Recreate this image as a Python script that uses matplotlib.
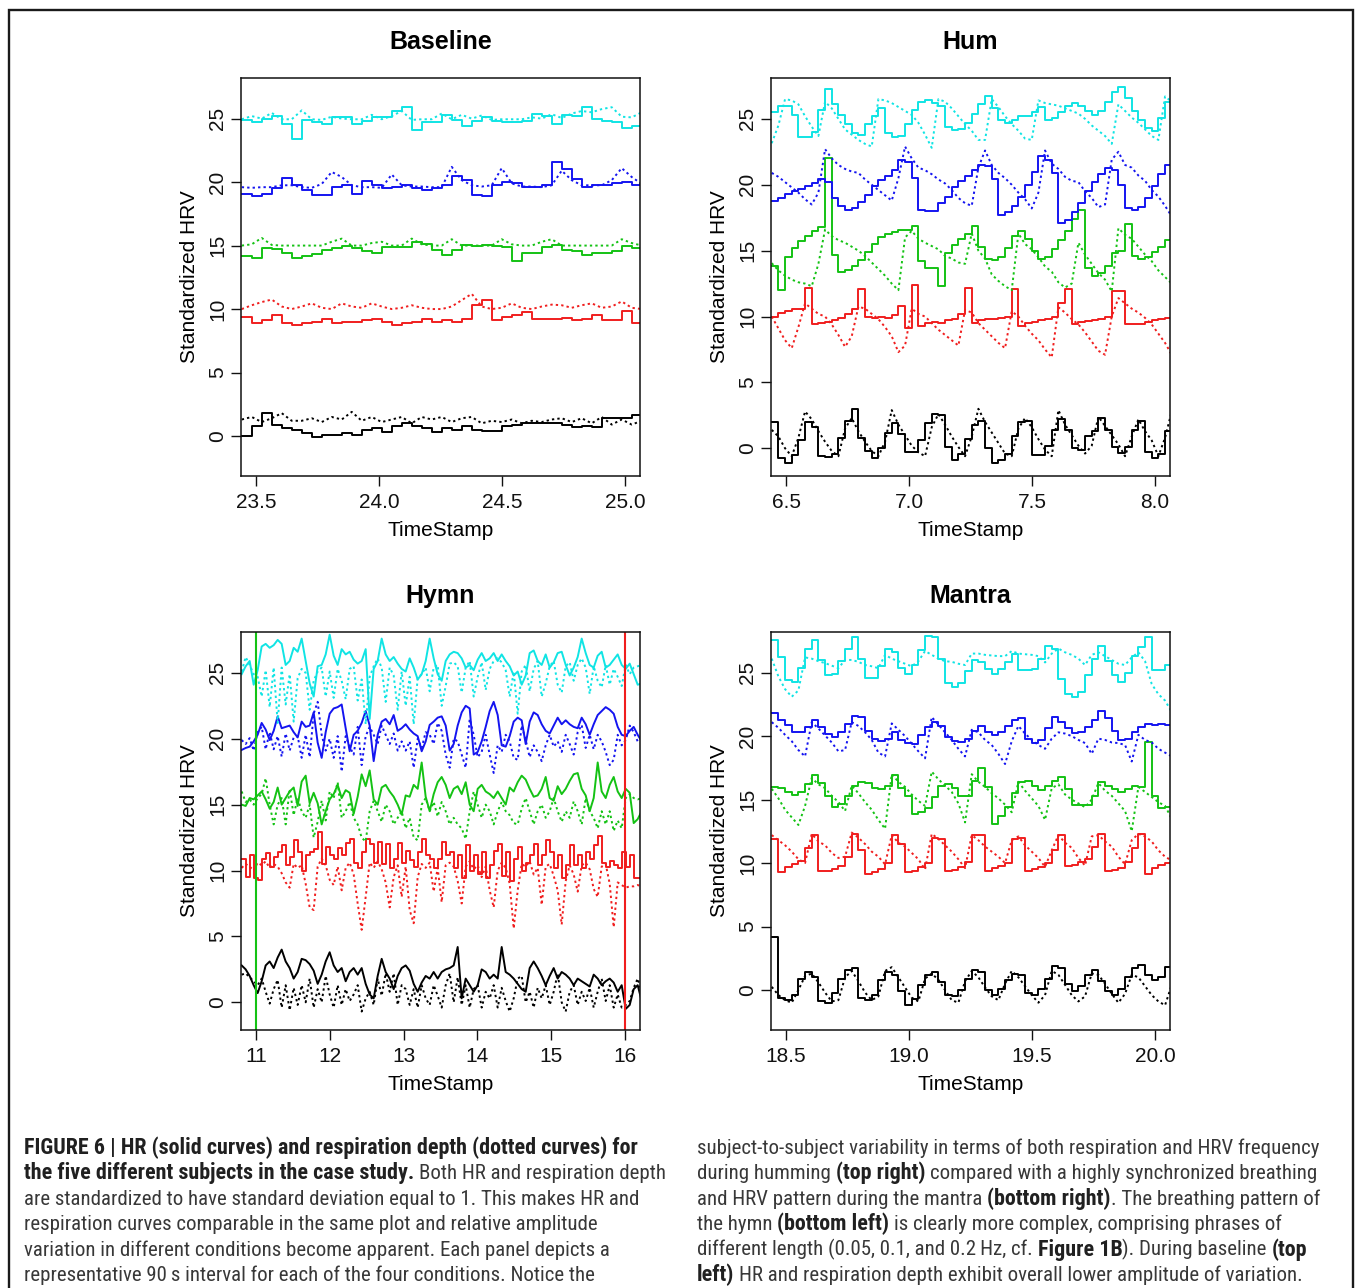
import numpy as np
import matplotlib
matplotlib.use('Agg')
import matplotlib.pyplot as plt
from matplotlib import font_manager
from matplotlib.font_manager import FontProperties
from matplotlib.patches import Rectangle

# ── Data (deviation from each subject's offset, in SD units) ────────────────
# subject order: black, red, green, blue, cyan
OFFSETS = [0, 10, 15, 20, 25]
COLORS = ['#000000', '#F01E1E', '#14C214', '#1414F0', '#10E4E4']

# Baseline (t = 23.44 .. 25.07)
BASE_T = np.linspace(23.442, 25.068, 41)
BASE_BLACK_HR = [0.0, 0.8, 1.8, 0.85, 0.6, 0.45, 0.2, -0.1, 0.1, 0.1, 0.2, 0.1, 0.5, 0.6, 0.35, 0.75, 1.0, 0.75, 0.6, 0.3, 0.6, 0.45, 0.8, 0.45, 0.4, 0.4, 0.75, 0.85, 1.0, 1.05, 1.0, 1.0, 0.9, 0.7, 0.75, 0.7, 1.4, 1.4, 1.45, 1.65, 1.0]
BASE_BLACK_RESP = [1.3, 1.5, 1.1, 1.4, 1.8, 1.2, 1.2, 1.4, 1.1, 1.5, 1.3, 1.9, 1.2, 1.5, 1.1, 1.3, 1.5, 1.0, 1.5, 1.3, 1.5, 1.1, 1.4, 1.5, 1.0, 1.2, 1.1, 1.3, 1.0, 1.2, 1.1, 1.3, 1.4, 1.1, 1.4, 1.0, 1.5, 0.9, 1.3, 0.9, 1.2]
BASE_RED_HR = [-0.6, -1.1, -0.85, -0.45, -1.1, -1.25, -1.1, -1.0, -0.75, -1.1, -1.0, -1.05, -0.9, -0.75, -1.0, -1.25, -1.1, -1.0, -0.8, -1.0, -0.9, -1.0, -0.8, 0.3, 0.7, -0.9, -0.6, -0.5, -0.2, -0.75, -0.8, -0.75, -0.7, -0.85, -0.75, -0.45, -0.85, -0.85, -0.15, -1.1, -1.0]
BASE_RED_RESP = [0.0, 0.3, 0.55, 0.75, 0.2, 0.0, 0.2, 0.45, 0.1, 0.0, 0.45, 0.2, 0.1, 0.45, 0.2, 0.0, 0.1, 0.3, 0.1, 0.0, 0.0, 0.2, 0.7, 1.2, 0.2, 0.0, 0.1, 0.45, 0.1, 0.0, 0.2, 0.35, 0.3, 0.1, 0.3, 0.45, 0.1, 0.2, 0.6, 0.1, 0.0]
BASE_GREEN_HR = [-0.85, -1.0, -0.2, -0.3, -0.6, -1.0, -0.85, -0.65, -0.35, -0.2, 0.0, -0.2, -0.45, -0.55, -0.1, -0.15, -0.1, 0.3, 0.1, -0.35, -0.75, -0.35, 0.05, 0.0, 0.05, 0.0, -0.1, -1.25, -0.6, -0.55, -0.1, 0.05, -0.35, -0.45, -0.75, -0.6, -0.55, -0.45, 0.0, -0.2, -0.6]
BASE_GREEN_RESP = [0.0, 0.1, 0.6, 0.05, 0.0, 0.0, 0.0, 0.0, 0.0, 0.3, 0.55, 0.0, 0.0, 0.2, 0.3, 0.0, 0.0, 0.55, 0.1, 0.0, 0.0, 0.5, 0.0, 0.0, 0.0, 0.0, 0.5, 0.1, 0.0, 0.0, 0.3, 0.5, 0.0, 0.0, 0.0, 0.0, 0.0, 0.0, 0.5, 0.2, 0.0]
BASE_BLUE_HR = [-0.9, -1.1, -0.9, -0.5, 0.35, -0.25, -0.65, -1.05, -1.0, -0.35, -0.25, -0.9, 0.1, -0.25, -0.5, -0.4, -0.25, -0.5, -0.6, -0.45, -0.25, 0.45, 0.15, -1.05, -1.1, -0.25, 0.0, -0.1, -0.4, -0.35, -0.2, 1.6, 1.0, 0.25, -0.4, -0.25, -0.2, -0.1, 0.0, -0.25, -0.6]
BASE_BLUE_RESP = [-0.4, -0.45, -0.4, -0.4, -0.25, -0.25, -0.4, -0.45, -0.15, 0.8, 0.4, -0.25, -0.4, -0.4, -0.45, 0.6, -0.25, -0.35, -0.35, -0.4, -0.4, 1.2, 0.15, -0.25, -0.35, -0.25, 1.1, -0.1, -0.35, -0.35, -0.4, -0.25, 0.9, 0.15, -0.25, -0.25, -0.25, 0.15, 1.1, 0.4, -0.15]
BASE_CYAN_HR = [-0.1, -0.25, 0.0, 0.2, -0.4, -1.6, -0.1, -0.3, -0.4, 0.15, 0.1, -0.4, -0.2, 0.15, 0.1, 0.6, 0.9, -0.9, -0.3, -0.25, 0.3, -0.1, -0.6, -0.2, 0.1, -0.2, -0.3, -0.3, -0.2, 0.35, 0.2, -0.4, 0.3, 0.2, 0.9, 0.0, -0.2, -0.3, -0.7, -0.6, 0.4]
BASE_CYAN_RESP = [-0.05, 0.2, 0.0, 0.45, -0.05, -0.05, 0.65, -0.05, -0.1, 0.15, 0.0, -0.05, -0.05, 0.3, -0.05, 0.2, 0.6, -0.1, -0.05, -0.05, 0.4, -0.05, 0.3, 0.0, 0.25, -0.1, -0.05, -0.05, -0.05, 0.1, 0.0, 0.35, 0.05, 0.4, 0.6, 0.5, 0.75, 0.9, 0.15, 0.1, 0.5]

# Hum (t = 6.44 .. 8.07)
HUM_T = np.linspace(6.442, 8.068, 61)
HUM_BLACK_HR = [2.0, -0.7, -1.15, -0.5, 0.6, 2.0, 1.6, -0.6, -0.65, -0.4, 0.8, 2.1, 3.0, 0.8, -0.2, -0.75, 0.0, 1.2, 1.9, 1.1, -0.3, -0.3, 0.6, 1.9, 2.6, 2.5, 0.1, -0.9, -0.4, 0.7, 1.8, 2.1, 0.0, -1.1, -0.9, -0.4, 0.9, 2.0, 2.1, -0.5, -0.5, 0.2, 1.4, 2.2, 1.4, 0.0, -0.1, 0.9, 1.3, 2.3, 1.4, 0.1, -0.35, 0.1, 1.4, 2.1, -0.3, -0.75, -0.4, 1.3, 1.6]
HUM_BLACK_RESP = [1.4, 0.9, 0.0, -0.6, 0.8, 2.8, 2.2, 1.3, 0.5, -0.2, -0.6, 1.5, 2.3, 1.3, 0.5, -0.2, -0.6, 0.5, 2.9, 1.8, 1.0, 0.2, -0.3, -0.6, 1.6, 2.6, 1.8, 0.9, 0.1, -0.6, 0.9, 3.0, 2.0, 1.2, 0.4, -0.4, -0.6, 1.5, 2.3, 1.6, 0.7, -0.1, -0.6, 2.9, 1.8, 1.0, 0.2, -0.4, 0.2, 2.4, 1.7, 1.0, 0.3, -0.6, 0.9, 2.2, 1.3, 0.6, -0.6, 0.8, 2.8]
HUM_RED_HR = [0.0, 0.25, 0.45, 0.6, 0.6, 2.2, -0.6, -0.5, -0.4, -0.25, -0.1, 0.2, 0.6, 2.1, 0.0, -0.1, 0.0, -0.1, 0.1, 0.8, -0.9, 2.4, -0.7, -0.5, -0.4, -0.5, -0.3, -0.2, 0.2, 2.15, -0.5, -0.25, -0.2, -0.15, -0.1, 0.0, 2.1, -0.7, -0.5, -0.4, -0.25, -0.15, 0.0, 1.0, 2.1, -0.6, -0.4, -0.35, -0.25, -0.15, 0.0, 1.9, 1.9, -0.6, -0.6, -0.6, -0.4, -0.25, -0.15, -0.1, -0.05]
HUM_RED_RESP = [0.0, -0.9, -1.8, -2.4, -0.8, 1.0, 0.6, 0.2, 0.0, -0.6, -1.4, -2.3, -1.5, 0.75, 0.6, 0.2, -0.2, -0.8, -1.5, -2.7, -2.2, 0.6, 0.2, 0.0, -0.5, -1.0, -1.4, -1.8, -2.2, 0.5, 0.3, -0.5, -1.0, -1.5, -2.0, -2.4, 0.4, 0.0, -0.7, -1.3, -1.8, -2.5, -3.1, 0.7, 0.3, -0.2, -0.6, -1.2, -1.9, -2.6, -2.9, 0.0, 1.4, 1.0, 0.6, 0.3, -0.1, -0.6, -1.3, -2.0, -2.9]
HUM_GREEN_HR = [-1.2, -3.0, -0.5, 0.2, 0.75, 1.1, 1.5, 1.8, 7.0, -0.3, -1.6, -1.5, -1.2, -0.7, -0.1, 0.5, 1.0, 1.3, 1.45, 1.55, 1.6, 1.85, -0.8, -1.3, -1.3, -2.7, -0.2, 0.4, 0.9, 1.3, 1.85, 0.3, -0.6, -0.7, -0.5, 0.2, 1.1, 1.5, 0.9, 0.0, -0.6, -0.5, 0.1, 0.8, 1.5, 2.4, 3.1, -1.3, -1.9, -1.7, -1.2, -0.2, 0.0, 2.0, -0.4, -0.6, -0.5, -0.1, 0.3, 0.8, 1.45]
HUM_GREEN_RESP = [-0.95, -1.5, -1.9, -2.2, -2.4, -2.5, -2.7, -1.0, 1.6, 1.1, 0.8, 0.6, 0.3, 0.0, -0.4, -0.9, -1.4, -1.9, -2.5, -3.0, 1.0, 1.5, 0.9, 0.6, 0.35, 0.1, -0.4, -0.6, -0.9, -1.0, 1.3, 0.0, -0.6, -1.8, -2.3, -2.7, -3.0, 1.3, 0.5, 0.1, -0.5, -1.2, -1.6, -2.4, -2.8, -2.5, 0.6, -0.3, -1.0, -1.7, -2.2, -3.1, 1.7, 1.2, 0.9, 0.3, -0.3, -0.8, -1.5, -2.0, -2.5]
HUM_BLUE_HR = [-1.25, -1.0, -0.7, -0.45, -0.3, -0.1, 0.1, 0.4, 0.2, -1.0, -1.6, -1.9, -1.8, -1.3, -0.8, -0.1, 0.35, 0.7, 1.1, 1.9, 1.7, 0.5, -1.9, -2.0, -2.0, -1.4, -0.9, -0.2, 0.3, 0.7, 1.1, 1.5, 1.4, 0.4, -2.3, -2.1, -1.6, -0.9, 0.0, 1.0, 2.2, 1.9, 0.9, -2.9, -2.7, -2.1, -1.4, -0.5, 0.2, 0.8, 1.3, 1.1, 0.0, -1.8, -1.9, -1.7, -1.0, -0.1, 0.8, 1.5, 2.0]
HUM_BLUE_RESP = [0.9, 0.6, 0.2, -0.2, -0.6, -1.1, -1.5, -0.6, 2.7, 2.0, 1.5, 1.2, 1.0, 0.9, 0.4, 0.0, -0.4, -0.8, -1.2, 0.5, 2.9, 2.0, 1.3, 1.1, 0.8, 0.4, 0.1, -0.4, -1.0, -1.4, -1.6, 1.3, 2.6, 1.5, 0.9, 0.5, 0.0, -0.6, -1.1, -1.8, -0.6, 2.6, 1.6, 1.2, 0.6, 0.3, 0.2, -0.5, -1.0, -1.7, -1.5, 1.9, 2.5, 1.5, 1.3, 0.7, 0.3, -0.4, -0.9, -1.6, -2.4]
HUM_CYAN_HR = [0.55, 0.95, 0.95, 0.3, -1.4, -1.35, -1.0, 0.7, 2.3, 1.1, 0.3, -0.4, -1.1, -1.2, -0.4, 0.2, 0.8, -1.1, -1.4, -1.3, -0.4, 0.7, 1.3, 1.4, 1.2, 1.0, -0.6, -0.85, -0.8, -0.3, 0.4, 1.1, 1.7, 0.8, -0.1, -0.3, -0.1, 0.2, 0.2, 0.5, 0.9, -0.1, 0.1, 0.5, 1.0, 1.2, 1.0, 0.6, 0.3, 0.6, 1.3, 2.0, 2.4, 1.6, 0.6, -0.1, -0.7, -0.9, 0.1, 1.3, 1.1]
HUM_CYAN_RESP = [-1.85, -0.5, 1.5, 1.4, 1.1, 0.2, -0.6, -1.3, 1.3, 0.8, 0.0, -0.8, -1.2, -1.6, -1.9, -2.1, 1.5, 1.4, 1.2, 0.9, 0.6, 0.3, -0.3, -1.2, -2.2, 1.5, 1.3, 0.8, 0.2, -0.4, -0.9, -1.6, -1.6, 1.5, 0.9, 0.2, -0.4, -0.9, -1.5, -1.6, 1.4, 1.2, 1.1, 1.0, 0.8, 0.6, 0.4, 0.0, -0.5, -0.9, -1.3, -1.9, 1.1, 0.6, 0.1, -0.3, -0.8, -1.3, -1.6, 1.7, 1.3]

# Hymn (t = 10.81 .. 16.23)
HYMN_T = np.linspace(10.806, 16.226, 101)
HYMN_BLACK_HR = [2.8, 2.5, 2.0, 1.3, 0.7, 1.6, 2.8, 3.1, 2.6, 3.4, 4.0, 3.1, 2.6, 1.8, 2.3, 3.3, 3.2, 2.9, 2.4, 1.4, 2.1, 3.1, 3.8, 2.8, 2.3, 2.6, 1.6, 2.3, 2.6, 2.1, 2.6, 1.4, 0.6, 0.3, 2.0, 3.3, 2.3, 1.8, 1.0, 2.0, 2.6, 2.8, 2.4, 1.4, 0.8, 1.5, 2.0, 1.8, 2.3, 1.8, 2.3, 2.5, 2.6, 2.8, 4.2, 0.3, 1.8, 1.3, 0.8, 1.3, 2.5, 2.3, 1.8, 2.1, 1.8, 4.2, 2.3, 2.1, 1.8, 1.4, 1.0, 0.8, 2.6, 3.1, 2.6, 2.0, 1.3, 2.0, 2.6, 1.8, 2.3, 2.1, 1.8, 1.3, 1.8, 1.6, 1.4, 1.2, 2.1, 1.8, 1.3, 1.6, 1.8, 1.5, 0.8, 1.3, -0.5, -0.2, 1.0, 1.3, 0.1]
HYMN_BLACK_RESP = [2.1, 2.2, 1.9, 1.6, 1.3, 1.8, 0.8, -0.1, 1.0, 1.7, -0.4, 1.3, -0.6, 1.1, -0.2, 1.3, 0.0, 1.8, -0.4, 1.0, 0.0, 2.0, 0.6, -0.4, 1.3, -0.2, 1.0, 0.1, 0.6, 1.3, -0.7, 0.3, 0.8, -0.2, 1.8, 0.5, 2.2, 0.8, 2.2, -0.2, 1.3, 1.0, -0.2, 1.0, -0.4, 1.3, 0.3, -0.2, 1.3, 0.5, -0.4, 1.3, 2.2, 0.0, 1.9, -0.2, 1.3, -0.4, 1.0, 1.3, -0.4, 0.8, 0.3, 1.3, -0.4, 1.1, 0.1, -0.7, 0.3, 1.8, 2.0, 0.0, 0.8, -0.4, 1.1, 0.3, 1.3, -0.2, 0.8, 2.2, 0.0, -0.7, 0.8, 1.3, -0.2, 0.8, 0.1, 1.1, -0.4, 0.8, 1.8, 0.1, 1.3, -0.4, 0.6, -0.4, -0.2, 0.1, 1.1, 1.8, 0.8]
HYMN_RED_HR = [0.9, -0.5, 1.2, -0.6, -0.7, 0.9, 1.3, 0.3, 1.0, 1.4, 1.95, 0.4, 1.0, 2.3, 1.4, 0.0, 1.2, 1.4, 1.6, 2.9, 0.5, 1.8, 1.2, 0.9, 1.7, 1.2, 2.1, 2.4, 0.6, 0.2, 1.4, 2.4, 2.0, 0.6, 2.2, 0.5, 2.0, 0.2, 0.9, 2.1, 0.6, 1.5, 0.8, 0.3, 1.4, 2.4, 1.2, 0.9, 0.2, 0.9, 2.2, 1.2, 1.4, 0.2, 1.2, -0.6, 1.9, 0.0, 1.2, -0.3, 1.4, -0.6, 0.4, 1.5, 2.0, -0.4, 1.4, -0.8, 0.9, 1.8, 0.0, 0.6, 1.2, 2.0, 0.4, 1.2, 2.3, 1.4, 0.2, 1.2, -0.6, 0.4, 1.9, 0.4, 1.2, 0.2, 1.4, 0.9, 1.95, 2.6, 0.6, 0.3, 0.7, 0.4, 0.2, 1.4, 0.3, 1.2, -0.6, -0.6, -0.6]
HYMN_RED_RESP = [0.2, 0.5, 0.3, 0.0, 0.6, 0.4, 0.7, 0.2, 0.5, 0.3, -0.2, -0.9, -1.3, 0.5, 0.2, 0.4, -1.0, -2.8, -3.0, 0.3, 0.9, 0.4, -0.7, -1.1, 0.3, -1.5, 0.2, 0.6, -0.3, -2.5, -4.5, -2.0, 0.6, 0.2, 0.7, 0.1, -0.9, -2.8, -0.5, 0.4, -2.0, 0.3, -3.0, -4.0, -0.5, 0.5, 0.2, 0.6, -1.6, 0.2, -2.4, 0.4, 0.6, 0.3, -0.8, -2.5, 0.3, 0.7, 0.1, 0.4, -0.5, 0.3, -1.5, -2.8, 0.0, 0.6, 0.2, -1.0, -4.4, -1.5, 0.5, 0.3, 0.7, -0.3, 0.2, -2.6, 0.3, 0.5, -0.4, -1.5, -4.1, -0.8, 0.4, -0.3, -1.6, 0.4, 0.6, 0.1, -1.4, -2.0, 0.3, 0.5, -1.0, -4.3, -0.9, -1.1, -1.3, -1.2, -1.2, -1.1, -1.2]
HYMN_GREEN_HR = [0.0, -0.1, 0.5, 0.4, 0.7, 1.0, 0.4, -0.3, 0.2, 1.3, 0.0, 0.5, 1.0, 1.3, -0.1, 1.75, 2.2, 0.1, 0.9, 0.1, -1.5, -0.5, 0.4, 0.8, 1.5, 0.5, 1.1, 0.9, -0.7, 0.6, 2.3, 1.4, 2.6, 0.4, 0.0, 1.3, 1.5, 1.0, 0.6, 0.0, -0.75, 0.7, 0.6, 1.5, 1.2, 3.2, 0.6, -0.5, 0.8, 1.7, 2.1, 1.5, 0.5, 1.2, 1.4, 0.8, 1.7, 0.0, -0.5, 1.2, 1.5, 1.0, 0.8, 0.5, 1.0, 0.5, 0.0, 1.3, 1.0, 1.7, 2.2, 1.9, 1.2, 0.6, 0.7, 1.2, 2.1, 0.5, 0.3, 1.4, 0.8, 1.2, 1.8, 2.3, 2.4, 1.2, 0.7, -0.5, 0.5, 3.2, 1.0, 0.5, 1.5, 2.1, 1.0, 0.5, 1.2, 0.9, -1.4, -1.1, -0.5]
HYMN_GREEN_RESP = [1.0, 0.2, 0.4, 0.0, 0.5, 0.8, 2.0, 0.0, -1.5, 0.0, 0.5, -1.5, 1.2, -0.8, 0.5, -0.5, -1.0, 0.0, -2.5, -1.3, 0.3, -1.2, 1.0, 0.5, 1.7, -1.0, -0.5, 0.2, -1.0, -1.5, -2.5, -2.8, -0.5, 0.3, -0.5, -1.3, 0.0, -0.5, -1.5, -1.0, -0.5, -1.8, -1.0, -2.5, -2.7, 0.0, 0.5, -0.5, 0.2, -0.9, 0.2, -0.5, -1.5, -1.0, -1.5, -1.8, -2.6, -0.5, 1.0, 0.0, -1.0, 0.0, -0.5, -1.5, -0.5, 0.2, -0.5, -0.8, -1.4, -1.5, -0.3, 0.5, -0.5, -1.5, -0.5, 0.0, -1.0, -0.5, 0.5, -0.5, -1.3, -0.5, -1.0, 0.25, -0.5, -1.5, 0.5, -0.5, -1.0, -1.8, -0.5, -1.5, -0.5, -2.0, -1.2, -1.8, 0.5, 0.8, 0.5, 0.4, 0.5]
HYMN_BLUE_HR = [-0.85, -0.7, -0.6, -0.2, 0.3, 1.2, 0.7, -0.1, 0.6, 1.7, 0.8, 0.9, 1.0, 0.5, 0.1, 1.3, 0.9, 1.0, 2.0, -0.3, -1.45, 0.5, 1.9, 2.3, 2.4, 2.6, 0.8, -0.95, 0.3, 0.6, 1.2, 2.1, 1.0, -1.7, 0.3, 1.3, 1.5, 1.1, 1.8, 0.6, 0.8, 1.1, 0.7, 0.4, 0.2, -0.95, -0.2, 1.05, 1.3, 1.6, 1.7, 1.0, -0.9, -0.4, 1.0, 2.0, 2.5, 2.3, -1.2, -1.0, -0.2, 0.9, 2.1, 2.8, 1.8, -0.5, -0.6, 0.2, 1.3, 1.6, 1.4, -0.4, 1.3, 2.0, 1.8, 1.1, 0.6, 0.4, 1.0, 1.6, 1.1, 1.4, 1.1, 0.9, 0.8, 1.6, 1.1, 0.3, 1.1, 1.8, 2.1, 2.4, 2.2, 1.9, 0.9, 0.3, 0.2, 0.6, 0.9, 0.3, -0.2]
HYMN_BLUE_RESP = [-0.1, -0.4, 0.05, -0.9, 0.5, 0.9, -0.8, 0.5, -0.8, 0.2, -1.35, 0.4, -0.9, 0.1, 0.2, -1.45, 0.3, -1.4, 1.9, 2.8, 0.3, -0.9, 0.0, -1.45, 0.2, -2.5, 0.2, -0.6, -1.2, 0.9, -2.0, 0.2, 0.9, 0.3, -0.4, 1.0, 0.3, -0.4, 0.4, -0.9, -0.2, -0.9, -0.2, -2.2, 0.0, -0.7, 0.5, 0.3, -0.4, 1.2, 0.6, -1.2, -2.2, 0.0, -0.2, -1.2, -2.2, 1.5, 0.3, -1.4, -1.0, 0.3, -1.2, -2.6, -0.5, -1.0, 0.3, -0.2, -1.45, -1.6, 1.0, -0.1, -1.4, -0.5, -1.0, -1.7, -0.5, 0.3, -0.6, -0.2, -1.0, 0.3, -0.4, -1.2, 0.5, 1.05, -0.7, 0.3, -0.8, 0.3, -0.2, -1.0, -2.0, -1.6, 0.3, -0.5, -0.1, 1.0, 0.5, -0.2, 0.05]
HYMN_CYAN_HR = [-0.1, 0.5, 0.9, -0.9, 0.2, 2.0, 2.2, 1.9, 2.1, 2.5, 2.2, 0.6, 0.9, 1.9, 1.6, 2.6, 0.9, -0.8, -1.8, 0.5, 0.6, 1.4, 2.9, 1.3, 0.6, 1.8, 1.4, 1.6, 1.0, 0.7, 0.9, 1.8, -3.5, 0.3, 0.9, 2.6, 1.4, 0.9, 1.2, 0.7, 0.3, 0.1, 1.1, 0.4, -0.5, -0.1, 0.9, 2.6, 1.1, -0.1, -0.6, 0.9, 1.4, 1.6, 1.5, 1.1, 0.4, 0.6, 0.2, 1.0, 1.5, 0.9, 1.1, 1.5, 0.9, 1.4, 0.9, 0.5, -0.2, 0.1, -0.9, -0.2, 1.5, 1.7, 0.9, 0.6, 1.4, 0.4, 0.8, 1.5, 1.6, 0.6, -0.2, 0.4, 1.2, 2.6, 1.5, 0.6, 0.4, 1.3, 1.6, 0.4, 0.6, 1.0, 1.4, 0.6, 0.3, 0.7, -0.1, -0.9, -0.8]
HYMN_CYAN_RESP = [0.1, 1.2, 0.6, -0.1, -0.3, -1.8, 0.2, -2.6, 0.4, -3.8, 0.4, -2.4, -0.1, -3.7, -0.4, 0.3, 0.0, -2.8, -0.6, 0.1, 0.4, -1.8, 0.1, -1.9, 0.3, -0.6, -2.0, 0.3, 0.5, -2.1, -0.5, -3.9, -0.3, 0.5, 1.1, 0.4, -2.2, 0.4, -0.2, -2.8, 0.1, -2.5, -0.3, -3.9, -0.4, -0.1, 0.4, -1.4, 0.4, 0.6, -2.5, -1.0, 0.7, 0.8, 0.5, -1.5, 0.4, 0.9, -1.8, -0.3, 0.8, -1.3, 0.3, 0.9, 1.1, 0.8, 0.2, -1.8, 0.1, -3.1, 0.1, 0.6, -1.4, 0.3, 0.9, -1.8, -0.8, 0.5, 0.9, -0.9, -1.5, 0.5, 0.8, -0.6, 0.6, 1.1, 0.4, -1.6, 0.5, -0.6, -1.1, 0.6, -0.9, 0.3, -0.3, -1.0, 0.6, -0.1, 0.4, 0.5, 0.6]
HYMN_MARKS = [11.0, 16.0]          # start / end of the hymn
HYMN_MARK_COLORS = ['#14C214', '#F01E1E']

# Mantra (t = 18.44 .. 20.07)
MANTRA_T = np.linspace(18.442, 20.068, 61)
MANTRA_BLACK_HR = [4.2, -0.65, -0.8, -0.4, 0.9, 1.4, 1.0, -0.9, -1.0, -0.2, 0.9, 1.6, 1.7, -0.6, -0.8, -0.4, 0.8, 1.4, 1.2, -0.1, -1.2, -0.7, 0.4, 1.2, 1.4, 0.6, -0.4, -0.5, 0.0, 0.9, 1.6, 1.4, 0.0, -0.4, 0.1, 0.8, 1.3, 1.2, -0.2, -0.4, 0.1, 0.9, 1.9, 1.7, 0.5, -0.1, 0.3, 1.2, 1.6, 0.7, -0.1, -0.4, 0.1, 1.0, 1.7, 2.0, 1.2, 0.8, 1.0, 1.8, 2.3]
MANTRA_BLACK_RESP = [0.25, -0.4, -0.8, -1.0, 0.0, 1.1, 1.3, 0.6, -0.2, -0.9, -0.8, 1.0, 1.5, 0.7, -0.2, -0.8, -0.5, 1.5, 1.8, 1.0, 0.2, -0.6, -0.9, 0.9, 1.3, 0.8, 0.0, -0.8, -1.0, 0.7, 1.5, 1.0, 0.2, -0.5, -0.8, 0.5, 1.5, 1.0, 0.3, -0.4, -1.0, -0.4, 1.5, 1.2, 0.4, -0.4, -0.9, -0.5, 1.3, 1.2, 0.5, -0.3, -1.0, -0.3, 1.2, 1.0, 0.3, -0.4, -0.9, -1.2, 0.4]
MANTRA_RED_HR = [1.9, -0.7, -0.3, -0.1, 0.2, 1.2, 2.2, -0.65, -0.6, -0.45, -0.2, 0.5, 2.3, 1.0, -0.85, -0.7, -0.5, 0.0, 2.2, 1.5, -0.7, -0.6, -0.35, 0.0, 2.0, 1.9, -0.65, -0.55, -0.3, 0.1, 2.2, 2.2, -0.6, -0.4, -0.2, 0.0, 1.9, 2.0, -0.6, -0.45, -0.3, 0.0, 1.0, 2.2, -0.2, -0.15, 0.1, 0.3, 1.3, 2.3, -0.6, -0.55, -0.4, 0.1, 1.2, 2.3, -0.85, -0.4, -0.15, 0.0, 0.3]
MANTRA_RED_RESP = [2.2, 1.8, 1.4, 0.9, 0.3, 0.0, 2.3, 1.7, 1.4, 0.8, 0.4, 0.5, 2.4, 2.0, 1.5, 0.9, 0.5, -0.1, 2.2, 1.6, 1.3, 0.8, 0.3, -0.5, 2.3, 1.9, 1.4, 0.9, 0.3, -0.4, 2.2, 1.8, 1.3, 0.9, 0.5, 0.0, 1.8, 2.1, 1.4, 0.9, 0.4, -0.3, 1.0, 2.2, 1.6, 1.2, 0.4, -0.2, 2.1, 2.2, 1.7, 1.3, 0.5, -0.1, 1.8, 2.3, 2.1, 1.7, 1.0, 0.5, 0.2]
MANTRA_GREEN_HR = [1.0, 0.9, 0.6, 0.35, 0.6, 1.2, 1.9, 1.3, 0.3, -0.6, -0.35, 0.3, 1.1, 1.4, 1.3, 0.9, 0.8, 1.1, 1.9, 0.9, 0.3, -1.1, -0.95, -0.7, 0.2, 1.1, 1.25, 0.9, 0.25, 0.3, 1.5, 2.5, 1.0, -1.9, -1.3, -0.6, 0.5, 1.4, 1.5, 1.1, 0.75, 1.1, 1.5, 1.8, 0.8, -0.45, -0.45, -0.45, 0.3, 1.4, 1.1, 0.85, 0.6, 0.85, 1.1, 1.0, 4.5, 0.3, -0.7, -0.6, -0.2]
MANTRA_GREEN_RESP = [0.85, 0.1, -0.8, -1.4, -2.0, -0.5, 1.7, 1.2, 0.9, 0.3, -0.2, -0.9, 1.1, 0.5, -0.2, -0.8, -1.6, -2.3, 2.0, 1.4, 1.0, 0.4, -0.1, -0.5, 2.2, 1.6, 1.1, 0.6, -0.3, -1.8, 2.0, 1.4, 1.0, 0.5, 0.1, -0.4, -1.0, 1.4, 0.7, 0.1, -0.5, -1.6, 0.9, 1.2, 0.4, 0.0, -0.3, -0.6, 0.0, 1.3, 0.7, 0.3, -0.3, -0.9, -2.5, 1.0, 0.6, 0.2, -0.2, -0.5, -1.5]
MANTRA_BLUE_HR = [1.8, 1.3, 0.85, 0.35, 0.3, 0.7, 1.3, 0.75, 0.2, -0.1, 0.3, 0.95, 1.6, 1.5, 0.4, -0.2, -0.4, -0.2, 0.35, -0.3, -0.55, -0.6, 0.1, 0.7, 1.1, 0.8, -0.1, -0.4, -0.45, -0.2, 0.4, 0.8, 0.3, 0.1, 0.3, 0.8, 1.3, 1.4, -0.2, -0.55, -0.3, 0.6, 1.5, 1.1, 0.6, 0.25, 0.3, 0.7, 1.3, 2.0, 1.4, 0.4, -0.3, -0.2, 0.3, 0.7, 0.95, 0.85, 0.95, 0.9, 0.85]
MANTRA_BLUE_RESP = [1.1, 0.65, 0.1, -0.4, -1.1, -1.6, 1.1, 0.6, 0.05, -0.5, -1.2, -1.1, 1.1, 0.8, 0.3, -0.3, -1.3, -1.6, 1.0, 0.5, 0.0, -0.6, -1.2, -1.75, 1.5, 0.9, 0.3, -0.3, -1.0, -1.6, 0.5, 0.3, -0.3, -0.7, -1.4, -2.2, -0.4, 0.8, 0.2, -0.3, -0.7, -1.0, -0.2, 0.3, 0.2, 0.0, -0.3, -0.55, -1.4, -0.2, -0.3, -0.5, -0.55, -0.7, -2.0, 0.1, -0.3, -0.5, -1.0, -1.3, -1.6]
MANTRA_CYAN_HR = [2.6, 1.2, -0.6, -0.7, 0.4, 1.9, 2.6, 1.0, -0.2, -0.1, 0.9, 1.9, 2.8, 1.1, -0.4, -0.4, 0.5, 1.9, 1.6, 0.4, -0.1, 0.6, 1.8, 2.9, 2.8, 1.1, -0.8, -1.1, -0.8, 0.1, 1.0, 0.8, 0.3, -0.1, 0.3, 0.8, 1.5, 0.2, 0.2, 0.3, 1.1, 2.1, 1.9, -0.5, -1.7, -1.9, -1.5, -0.2, 1.1, 2.1, 0.9, -0.2, -0.7, 0.0, 1.3, 2.0, 2.8, 0.2, 0.2, 0.6, 1.1]
MANTRA_CYAN_RESP = [1.1, -0.3, -1.3, -1.9, -1.4, 1.2, 1.1, 0.9, 0.75, 0.55, 0.35, 1.0, 1.0, 0.85, 0.6, 0.5, 0.35, 1.4, 1.1, 0.9, 0.7, 0.5, 0.9, 1.7, 1.4, 1.1, 0.9, 0.85, 0.7, 0.6, 1.5, 1.5, 1.4, 1.35, 1.3, 1.3, 1.7, 1.5, 1.45, 1.4, 1.3, 0.8, 1.5, 1.9, 1.6, 1.4, 1.1, 0.6, 1.4, 1.6, 1.3, 1.0, 0.7, 0.6, 1.2, 1.6, 0.9, -0.9, -1.7, -2.2, -3.1]

Y_TICKS = [0, 5, 10, 15, 20, 25]

PANELS = [
    dict(title='Baseline', t=BASE_T, steps=[True] * 5,
         hr=[BASE_BLACK_HR, BASE_RED_HR, BASE_GREEN_HR, BASE_BLUE_HR, BASE_CYAN_HR],
         resp=[BASE_BLACK_RESP, BASE_RED_RESP, BASE_GREEN_RESP, BASE_BLUE_RESP, BASE_CYAN_RESP],
         xticks=[23.5, 24.0, 24.5, 25.0], xlabels=['23.5', '24.0', '24.5', '25.0'],
         xlim=(23.439, 25.061), ylim=(-3.15, 28.2), box=(241, 78, 640, 476)),
    dict(title='Hum', t=HUM_T, steps=[True] * 5,
         hr=[HUM_BLACK_HR, HUM_RED_HR, HUM_GREEN_HR, HUM_BLUE_HR, HUM_CYAN_HR],
         resp=[HUM_BLACK_RESP, HUM_RED_RESP, HUM_GREEN_RESP, HUM_BLUE_RESP, HUM_CYAN_RESP],
         xticks=[6.5, 7.0, 7.5, 8.0], xlabels=['6.5', '7.0', '7.5', '8.0'],
         xlim=(6.439, 8.061), ylim=(-2.1, 28.1), box=(771, 78, 1170, 476)),
    dict(title='Hymn', t=HYMN_T, steps=[False, True, False, False, False],
         hr=[HYMN_BLACK_HR, HYMN_RED_HR, HYMN_GREEN_HR, HYMN_BLUE_HR, HYMN_CYAN_HR],
         resp=[HYMN_BLACK_RESP, HYMN_RED_RESP, HYMN_GREEN_RESP, HYMN_BLUE_RESP, HYMN_CYAN_RESP],
         xticks=[11, 12, 13, 14, 15, 16], xlabels=['11', '12', '13', '14', '15', '16'],
         xlim=(10.797, 16.203), ylim=(-2.1, 28.1), box=(241, 632, 640, 1030)),
    dict(title='Mantra', t=MANTRA_T, steps=[True] * 5,
         hr=[MANTRA_BLACK_HR, MANTRA_RED_HR, MANTRA_GREEN_HR, MANTRA_BLUE_HR, MANTRA_CYAN_HR],
         resp=[MANTRA_BLACK_RESP, MANTRA_RED_RESP, MANTRA_GREEN_RESP, MANTRA_BLUE_RESP, MANTRA_CYAN_RESP],
         xticks=[18.5, 19.0, 19.5, 20.0], xlabels=['18.5', '19.0', '19.5', '20.0'],
         xlim=(18.439, 20.061), ylim=(-3.15, 28.2), box=(771, 632, 1170, 1030)),
]

# caption: list of lines, each a list of (text, bold)
CAPTION_LEFT = [
    [('FIGURE 6 | HR (solid curves) and respiration depth (dotted curves) for', True)],
    [('the five different subjects in the case study.', True), (' Both HR and respiration depth', False)],
    [('are standardized to have standard deviation equal to 1. This makes HR and', False)],
    [('respiration curves comparable in the same plot and relative amplitude', False)],
    [('variation in different conditions become apparent. Each panel depicts a', False)],
    [('representative 90\u2009s interval for each of the four conditions. Notice the', False)],
]
CAPTION_RIGHT = [
    [('subject-to-subject variability in terms of both respiration and HRV frequency', False)],
    [('during humming ', False), ('(top right)', True), (' compared with a highly synchronized breathing', False)],
    [('and HRV pattern during the mantra ', False), ('(bottom right)', True), ('. The breathing pattern of', False)],
    [('the hymn ', False), ('(bottom left)', True), (' is clearly more complex, comprising phrases of', False)],
    [('different length (0.05, 0.1, and 0.2\u2009Hz, cf. ', False), ('Figure 1B', True),
     ('). During baseline ', False), ('(top', True)],
    [('left)', True), (' HR and respiration depth exhibit overall lower amplitude of variation.', False)],
]

# ── Fonts ────────────────────────────────────────────────────────────────────
W, H = 1355, 1288
FONT = 'Liberation Sans'


def pick_condensed():
    """Find an installed condensed sans face for the caption, else None."""
    def is_cond(f):
        st = f.stretch
        if isinstance(st, str):
            return 'condensed' in st
        return st < 500
    prefs = ['Liberation Sans Narrow', 'Roboto Condensed', 'Open Sans Condensed',
             'Noto Sans', 'Open Sans', 'Roboto', 'DejaVu Sans']
    faces = font_manager.fontManager.ttflist
    for name in prefs:
        for f in faces:
            if f.name == name and (is_cond(f) or 'Narrow' in name or 'Condensed' in name):
                return name, ('condensed' if is_cond(f) else 'normal')
    return None


_cond = pick_condensed()
CAP_FAMILY, CAP_STRETCH = _cond if _cond else (FONT, 'normal')


def cap_props(size, bold):
    return FontProperties(family=[CAP_FAMILY, 'DejaVu Sans'], stretch=CAP_STRETCH,
                          weight='bold' if bold else 'normal', size=size)


plt.rcParams['font.family'] = [FONT, 'DejaVu Sans']
fig = plt.figure(figsize=(W / 100, H / 100), dpi=100)
fig.patch.set_facecolor('white')

for p in PANELS:
    x0, y0, x1, y1 = p['box']
    ax = fig.add_axes([x0 / W, 1 - y1 / H, (x1 - x0) / W, (y1 - y0) / H])
    for hr, resp, off, col, st in zip(p['hr'], p['resp'], OFFSETS, COLORS, p['steps']):
        ax.plot(p['t'], np.array(hr) + off, color=col, lw=1.4,
                drawstyle='steps-post' if st else 'default')
        ax.plot(p['t'], np.array(resp) + off, color=col, lw=1.4,
                linestyle=(0, (1.2, 1.6)))
    if p['title'] == 'Hymn':
        for xm, cm in zip(HYMN_MARKS, HYMN_MARK_COLORS):
            ax.axvline(xm, color=cm, lw=1.5)
    ax.set_xlim(*p['xlim'])
    ax.set_ylim(*p['ylim'])
    ax.set_xticks(p['xticks'])
    ax.set_xticklabels(p['xlabels'])
    ax.set_yticks(Y_TICKS)
    ax.set_yticklabels([str(v) for v in Y_TICKS])
    ax.tick_params(direction='out', length=7, width=1.0, labelsize=15, colors='#111111')
    ax.tick_params(axis='x', pad=5)
    ax.tick_params(axis='y', pad=3, labelrotation=90)
    for lbl in ax.get_yticklabels():
        lbl.set_va('center')
    for sp in ax.spines.values():
        sp.set_linewidth(1.1)
        sp.set_color('#111111')
    ax.set_title(p['title'], fontsize=18, fontweight='bold', pad=21)
    ax.set_xlabel('TimeStamp', fontsize=15)
    ax.set_ylabel('Standardized HRV', fontsize=15)
    ax.xaxis.set_label_coords(0.5, -0.112)
    ax.yaxis.set_label_coords(-0.105, 0.5)

# outer frame (bottom edge lies outside the picture)
fig.add_artist(Rectangle((9 / W, -0.05), (1353 - 9) / W, 1.05 - 10 / H,
                         transform=fig.transFigure, fill=False,
                         lw=1.7, edgecolor='#1a1a1a'))

# ── Caption with mixed bold / regular runs ───────────────────────────────────
renderer = fig.canvas.get_renderer()


def text_width(s, size, bold):
    t = fig.text(0, 0, s, fontproperties=cap_props(size, bold))
    w = t.get_window_extent(renderer).width
    t.remove()
    return w


# regular size fitted to a full regular line, bold size to the full bold line
cap_size = 10 * 613 / text_width(CAPTION_LEFT[2][0][0], 10, False)
bold_size = 10 * 613 / text_width(CAPTION_LEFT[0][0][0], 10, True)
space_w = text_width('a a', cap_size, False) - text_width('aa', cap_size, False)


def draw_caption(lines, x_px, y0_px, step_px):
    for k, segs in enumerate(lines):
        x = x_px
        y = 1 - (y0_px + k * step_px) / H
        for s, bold in segs:
            if s.startswith(' '):
                x += space_w
            core = s.strip(' ')
            t = fig.text(x / W, y, core,
                         fontproperties=cap_props(bold_size if bold else cap_size, bold),
                         color='#202020' if bold else '#383838',
                         ha='left', va='baseline')
            x += t.get_window_extent(renderer).width
            if s.endswith(' '):
                x += space_w


draw_caption(CAPTION_LEFT, 24, 1154, 25.4)
draw_caption(CAPTION_RIGHT, 697, 1154, 25.4)

fig.savefig('out.png', dpi=100, facecolor='white')
